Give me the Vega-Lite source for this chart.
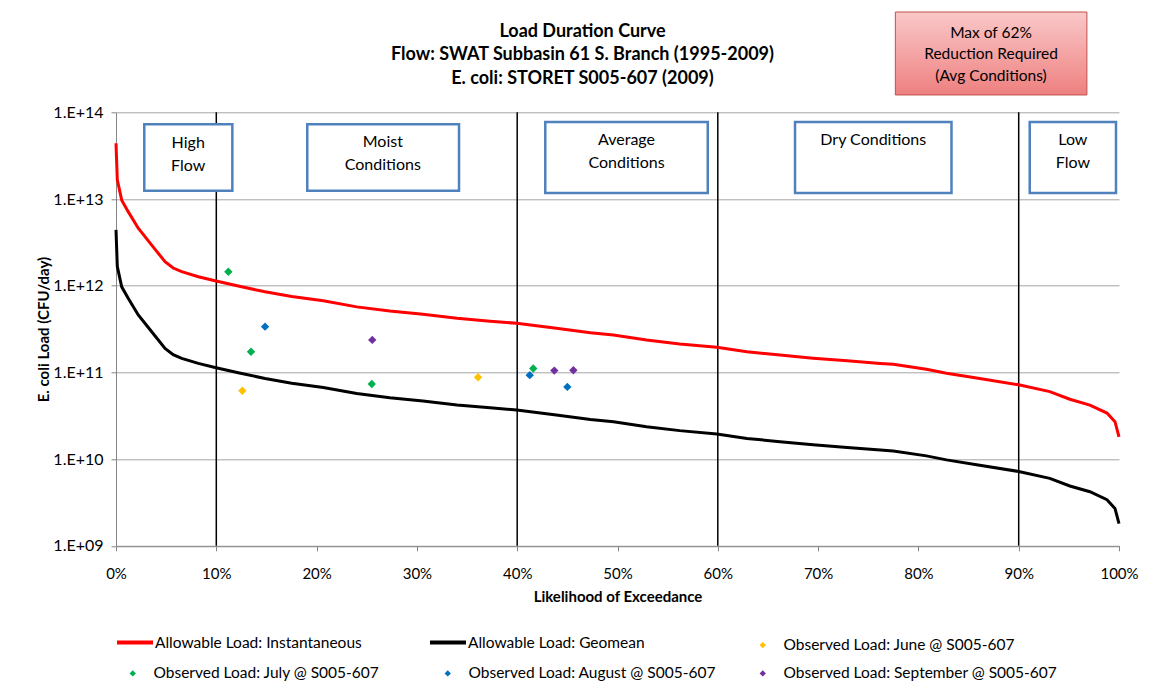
{
  "$schema": "https://vega.github.io/schema/vega-lite/v6.json",
  "width": 1003,
  "height": 433.5,
  "autosize": {"type": "none"},
  "padding": {"left": 116, "top": 112.3, "right": 34, "bottom": 147.2},
  "background": "white",
  "config": {
    "font": "Lato",
    "view": {"stroke": null},
    "axis": {"labelColor": "black", "titleColor": "black", "domainColor": "#868686", "tickColor": "#868686", "gridColor": "#a6a6a6", "labelFont": "Lato", "titleFont": "Lato"},
    "legend": {"labelFont": "Lato", "labelFontSize": 15.5, "labelColor": "black", "labelLimit": 400, "title": null}
  },
  "title": {
    "text": "Load Duration Curve",
    "subtitle": ["Flow: SWAT Subbasin 61 S. Branch (1995-2009)", "E. coli: STORET S005-607 (2009)"],
    "fontSize": 18, "fontWeight": "bold", "color": "black",
    "subtitleFontSize": 18, "subtitleFontWeight": "bold", "subtitleColor": "black",
    "subtitlePadding": 5, "subtitleLineHeight": 24,
    "anchor": "middle", "frame": "group", "dx": -35, "offset": -76
  },
  "datasets": {
    "curves": [
      {"p": 0, "v": 4.4e13, "s": "Allowable Load: Instantaneous"},
      {"p": 0.13, "v": 1.66e13, "s": "Allowable Load: Instantaneous"},
      {"p": 0.57, "v": 9.7e12, "s": "Allowable Load: Instantaneous"},
      {"p": 1.23, "v": 7.1e12, "s": "Allowable Load: Instantaneous"},
      {"p": 2.22, "v": 4.6e12, "s": "Allowable Load: Instantaneous"},
      {"p": 3.56, "v": 2.94e12, "s": "Allowable Load: Instantaneous"},
      {"p": 4.89, "v": 1.89e12, "s": "Allowable Load: Instantaneous"},
      {"p": 5.7, "v": 1.6e12, "s": "Allowable Load: Instantaneous"},
      {"p": 6.55, "v": 1.45e12, "s": "Allowable Load: Instantaneous"},
      {"p": 8.21, "v": 1.27e12, "s": "Allowable Load: Instantaneous"},
      {"p": 9.87, "v": 1.14e12, "s": "Allowable Load: Instantaneous"},
      {"p": 12.19, "v": 9.9e11, "s": "Allowable Load: Instantaneous"},
      {"p": 14.86, "v": 8.5e11, "s": "Allowable Load: Instantaneous"},
      {"p": 17.52, "v": 7.5e11, "s": "Allowable Load: Instantaneous"},
      {"p": 20.67, "v": 6.7e11, "s": "Allowable Load: Instantaneous"},
      {"p": 24.0, "v": 5.7e11, "s": "Allowable Load: Instantaneous"},
      {"p": 27.3, "v": 5.1e11, "s": "Allowable Load: Instantaneous"},
      {"p": 30.6, "v": 4.68e11, "s": "Allowable Load: Instantaneous"},
      {"p": 34.0, "v": 4.2e11, "s": "Allowable Load: Instantaneous"},
      {"p": 37.3, "v": 3.9e11, "s": "Allowable Load: Instantaneous"},
      {"p": 39.95, "v": 3.68e11, "s": "Allowable Load: Instantaneous"},
      {"p": 43.9, "v": 3.23e11, "s": "Allowable Load: Instantaneous"},
      {"p": 47.3, "v": 2.87e11, "s": "Allowable Load: Instantaneous"},
      {"p": 49.6, "v": 2.7e11, "s": "Allowable Load: Instantaneous"},
      {"p": 52.9, "v": 2.36e11, "s": "Allowable Load: Instantaneous"},
      {"p": 56.2, "v": 2.13e11, "s": "Allowable Load: Instantaneous"},
      {"p": 59.9, "v": 1.95e11, "s": "Allowable Load: Instantaneous"},
      {"p": 62.9, "v": 1.73e11, "s": "Allowable Load: Instantaneous"},
      {"p": 66.2, "v": 1.59e11, "s": "Allowable Load: Instantaneous"},
      {"p": 69.5, "v": 1.46e11, "s": "Allowable Load: Instantaneous"},
      {"p": 72.9, "v": 1.36e11, "s": "Allowable Load: Instantaneous"},
      {"p": 76.2, "v": 1.27e11, "s": "Allowable Load: Instantaneous"},
      {"p": 77.5, "v": 1.24e11, "s": "Allowable Load: Instantaneous"},
      {"p": 80.8, "v": 1.09e11, "s": "Allowable Load: Instantaneous"},
      {"p": 82.8, "v": 9.8e10, "s": "Allowable Load: Instantaneous"},
      {"p": 85.8, "v": 8.6e10, "s": "Allowable Load: Instantaneous"},
      {"p": 90.0, "v": 7.2e10, "s": "Allowable Load: Instantaneous"},
      {"p": 93.1, "v": 6.0e10, "s": "Allowable Load: Instantaneous"},
      {"p": 95.1, "v": 4.9e10, "s": "Allowable Load: Instantaneous"},
      {"p": 97.1, "v": 4.2e10, "s": "Allowable Load: Instantaneous"},
      {"p": 98.8, "v": 3.4e10, "s": "Allowable Load: Instantaneous"},
      {"p": 99.6, "v": 2.7e10, "s": "Allowable Load: Instantaneous"},
      {"p": 100, "v": 1.8e10, "s": "Allowable Load: Instantaneous"},
      {"p": 0, "v": 4.4e12, "s": "Allowable Load: Geomean"},
      {"p": 0.13, "v": 1.66e12, "s": "Allowable Load: Geomean"},
      {"p": 0.57, "v": 9.7e11, "s": "Allowable Load: Geomean"},
      {"p": 1.23, "v": 7.1e11, "s": "Allowable Load: Geomean"},
      {"p": 2.22, "v": 4.6e11, "s": "Allowable Load: Geomean"},
      {"p": 3.56, "v": 2.94e11, "s": "Allowable Load: Geomean"},
      {"p": 4.89, "v": 1.89e11, "s": "Allowable Load: Geomean"},
      {"p": 5.7, "v": 1.6e11, "s": "Allowable Load: Geomean"},
      {"p": 6.55, "v": 1.45e11, "s": "Allowable Load: Geomean"},
      {"p": 8.21, "v": 1.27e11, "s": "Allowable Load: Geomean"},
      {"p": 9.87, "v": 1.14e11, "s": "Allowable Load: Geomean"},
      {"p": 12.19, "v": 9.9e10, "s": "Allowable Load: Geomean"},
      {"p": 14.86, "v": 8.5e10, "s": "Allowable Load: Geomean"},
      {"p": 17.52, "v": 7.5e10, "s": "Allowable Load: Geomean"},
      {"p": 20.67, "v": 6.7e10, "s": "Allowable Load: Geomean"},
      {"p": 24.0, "v": 5.7e10, "s": "Allowable Load: Geomean"},
      {"p": 27.3, "v": 5.1e10, "s": "Allowable Load: Geomean"},
      {"p": 30.6, "v": 4.68e10, "s": "Allowable Load: Geomean"},
      {"p": 34.0, "v": 4.2e10, "s": "Allowable Load: Geomean"},
      {"p": 37.3, "v": 3.9e10, "s": "Allowable Load: Geomean"},
      {"p": 39.95, "v": 3.68e10, "s": "Allowable Load: Geomean"},
      {"p": 43.9, "v": 3.23e10, "s": "Allowable Load: Geomean"},
      {"p": 47.3, "v": 2.87e10, "s": "Allowable Load: Geomean"},
      {"p": 49.6, "v": 2.7e10, "s": "Allowable Load: Geomean"},
      {"p": 52.9, "v": 2.36e10, "s": "Allowable Load: Geomean"},
      {"p": 56.2, "v": 2.13e10, "s": "Allowable Load: Geomean"},
      {"p": 59.9, "v": 1.95e10, "s": "Allowable Load: Geomean"},
      {"p": 62.9, "v": 1.73e10, "s": "Allowable Load: Geomean"},
      {"p": 66.2, "v": 1.59e10, "s": "Allowable Load: Geomean"},
      {"p": 69.5, "v": 1.46e10, "s": "Allowable Load: Geomean"},
      {"p": 72.9, "v": 1.36e10, "s": "Allowable Load: Geomean"},
      {"p": 76.2, "v": 1.27e10, "s": "Allowable Load: Geomean"},
      {"p": 77.5, "v": 1.24e10, "s": "Allowable Load: Geomean"},
      {"p": 80.8, "v": 1.09e10, "s": "Allowable Load: Geomean"},
      {"p": 82.8, "v": 9.8e9, "s": "Allowable Load: Geomean"},
      {"p": 85.8, "v": 8.6e9, "s": "Allowable Load: Geomean"},
      {"p": 90.0, "v": 7.2e9, "s": "Allowable Load: Geomean"},
      {"p": 93.1, "v": 6.0e9, "s": "Allowable Load: Geomean"},
      {"p": 95.1, "v": 4.9e9, "s": "Allowable Load: Geomean"},
      {"p": 97.1, "v": 4.2e9, "s": "Allowable Load: Geomean"},
      {"p": 98.8, "v": 3.4e9, "s": "Allowable Load: Geomean"},
      {"p": 99.6, "v": 2.7e9, "s": "Allowable Load: Geomean"},
      {"p": 100, "v": 1.8e9, "s": "Allowable Load: Geomean"}
    ],
    "obsJune": [
      {"p": 12.6, "v": 6.15e10, "s": "Observed Load: June @ S005-607"},
      {"p": 36.1, "v": 8.8e10, "s": "Observed Load: June @ S005-607"}
    ],
    "obsOther": [
      {"p": 11.2, "v": 1.45e12, "s": "Observed Load: July @ S005-607"},
      {"p": 13.46, "v": 1.73e11, "s": "Observed Load: July @ S005-607"},
      {"p": 25.5, "v": 7.35e10, "s": "Observed Load: July @ S005-607"},
      {"p": 41.6, "v": 1.11e11, "s": "Observed Load: July @ S005-607"},
      {"p": 14.86, "v": 3.37e11, "s": "Observed Load: August @ S005-607"},
      {"p": 41.25, "v": 9.3e10, "s": "Observed Load: August @ S005-607"},
      {"p": 45.0, "v": 6.8e10, "s": "Observed Load: August @ S005-607"},
      {"p": 25.55, "v": 2.37e11, "s": "Observed Load: September @ S005-607"},
      {"p": 43.7, "v": 1.05e11, "s": "Observed Load: September @ S005-607"},
      {"p": 45.6, "v": 1.06e11, "s": "Observed Load: September @ S005-607"}
    ],
    "bounds": [
      {"p": 10, "v": 1e9, "v2": 1e14},
      {"p": 40, "v": 1e9, "v2": 1e14},
      {"p": 60, "v": 1e9, "v2": 1e14},
      {"p": 90, "v": 1e9, "v2": 1e14}
    ],
    "zones": [
      {"p": 2.82, "p2": 11.6, "v": 7.28e13, "v2": 1.247e13},
      {"p": 19.07, "p2": 34.2, "v": 7.28e13, "v2": 1.247e13},
      {"p": 42.8, "p2": 59.0, "v": 7.73e13, "v2": 1.172e13},
      {"p": 67.7, "p2": 83.3, "v": 7.73e13, "v2": 1.172e13},
      {"p": 91.1, "p2": 99.7, "v": 7.73e13, "v2": 1.172e13}
    ],
    "zoneLabels": [
      {"label": "High\nFlow", "p": 7.2, "v": 4.42e13},
      {"label": "Moist\nConditions", "p": 26.6, "v": 4.55e13},
      {"label": "Average\nConditions", "p": 50.9, "v": 4.8e13},
      {"label": "Dry Conditions", "p": 75.5, "v": 4.79e13},
      {"label": "Low\nFlow", "p": 95.4, "v": 4.8e13}
    ],
    "note": [
      {"p": 77.7, "p2": 96.8, "v": 1.435e15, "v2": 1.585e14}
    ],
    "noteLabel": [
      {"label": "Max of 62%\nReduction Required\n(Avg Conditions)", "p": 87.24, "v": 8.32e14}
    ]
  },
  "encoding": {
    "x": {"field": "p", "type": "quantitative", "scale": {"domain": [0, 100], "nice": false},
      "axis": {"values": [0,10,20,30,40,50,60,70,80,90,100], "labelExpr": "datum.value + '%'", "labelFlush": false, "grid": false, "tickSize": 5, "labelFontSize": 15, "labelPadding": 16, "title": "Likelihood of Exceedance", "titleFontSize": 15, "titleFontWeight": "bold", "titlePadding": 8}},
    "y": {"field": "v", "type": "quantitative", "scale": {"type": "log", "domain": [1e9, 1e14], "nice": false},
      "axis": {"values": [1e9, 1e10, 1e11, 1e12, 1e13, 1e14], "labelExpr": "'1.E+' + (round(log(datum.value)/LN10) < 10 ? '0' : '') + round(log(datum.value)/LN10)", "labelFlush": false, "grid": true, "tickSize": 5, "labelFontSize": 16, "labelPadding": 8, "title": "E. coli Load (CFU/day)", "titleFontSize": 15, "titleFontWeight": "bold", "titlePadding": 1}}
  },
  "layer": [
    {
      "data": {"name": "bounds"},
      "mark": {"type": "rule", "color": "black", "strokeWidth": 1.5},
      "encoding": {"y2": {"field": "v2"}}
    },
    {
      "data": {"name": "curves"},
      "mark": {"type": "line", "strokeWidth": 3},
      "encoding": {
        "stroke": {"field": "s", "type": "nominal",
          "scale": {"domain": ["Allowable Load: Instantaneous", "Allowable Load: Geomean"], "range": ["#FF0000", "#000000"]},
          "legend": {"orient": "none", "legendX": -1, "legendY": 510, "direction": "horizontal", "symbolType": "stroke", "symbolSize": 1296, "symbolStrokeWidth": 4, "labelOffset": 0, "columnPadding": 60}}
      }
    },
    {
      "data": {"name": "obsJune"},
      "mark": {"type": "point", "shape": "diamond", "filled": true, "size": 70, "opacity": 1},
      "encoding": {
        "fill": {"field": "s", "type": "nominal",
          "scale": {"domain": ["Observed Load: June @ S005-607"], "range": ["#FFC000"]},
          "legend": {"orient": "none", "legendX": 639, "legendY": 525, "symbolType": "diamond", "symbolSize": 40, "labelOffset": 13}}
      }
    },
    {
      "data": {"name": "obsOther"},
      "mark": {"type": "point", "shape": "diamond", "filled": true, "size": 70, "opacity": 1},
      "encoding": {
        "color": {"field": "s", "type": "nominal",
          "scale": {"domain": ["Observed Load: July @ S005-607", "Observed Load: August @ S005-607", "Observed Load: September @ S005-607"], "range": ["#00B050", "#0070C0", "#7030A0"]},
          "legend": {"orient": "none", "legendX": 9, "legendY": 553, "direction": "horizontal", "columns": 3, "gridAlign": "all", "columnPadding": 12, "symbolType": "diamond", "symbolSize": 40, "labelOffset": 13}}
      }
    },
    {
      "data": {"name": "zones"},
      "mark": {"type": "rect", "fill": "white", "stroke": "#4F81BD", "strokeWidth": 2.5},
      "encoding": {"x2": {"field": "p2"}, "y2": {"field": "v2"}}
    },
    {
      "data": {"name": "zoneLabels"},
      "mark": {"type": "text", "lineBreak": "\n", "fontSize": 16, "lineHeight": 23, "align": "center", "baseline": "middle", "color": "black"},
      "encoding": {"text": {"field": "label"}}
    },
    {
      "data": {"name": "note"},
      "mark": {"type": "rect", "clip": false, "stroke": "#C0504D", "strokeWidth": 1,
        "fill": {"gradient": "linear", "x1": 0, "y1": 0, "x2": 0, "y2": 1, "stops": [{"offset": 0, "color": "#FAC8C8"}, {"offset": 1, "color": "#EE8080"}]}},
      "encoding": {"x2": {"field": "p2"}, "y2": {"field": "v2"}}
    },
    {
      "data": {"name": "noteLabel"},
      "mark": {"type": "text", "clip": false, "lineBreak": "\n", "fontSize": 15.5, "lineHeight": 21.5, "align": "center", "baseline": "middle", "color": "black"},
      "encoding": {"text": {"field": "label"}}
    }
  ]
}
